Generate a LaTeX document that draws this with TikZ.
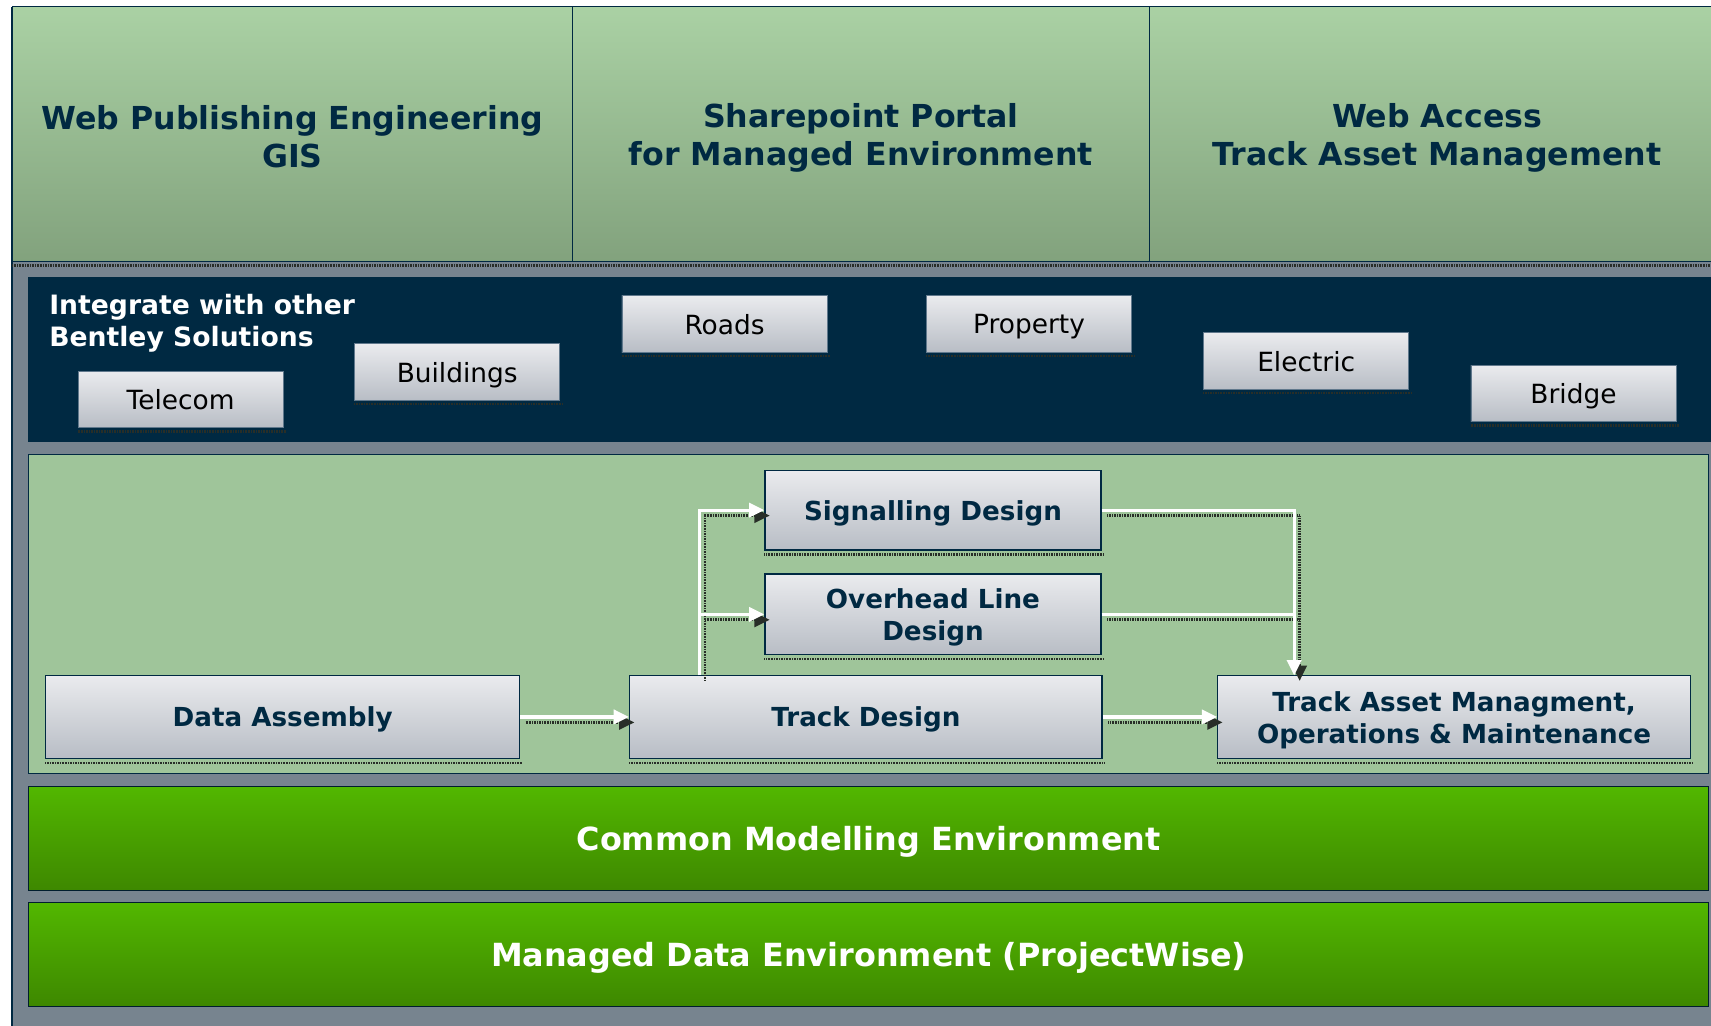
\documentclass[tikz,border=0pt]{standalone}
\usepackage{fontspec}
\setmainfont{DejaVu Sans}
\usetikzlibrary{arrows.meta,shadings}

\definecolor{navy}{RGB}{0,41,66}
\definecolor{slate}{RGB}{119,132,143}
\definecolor{hdtop}{RGB}{170,209,164}
\definecolor{hdbot}{RGB}{130,162,125}
\definecolor{panel}{RGB}{159,197,154}
\definecolor{boxtop}{RGB}{234,235,238}
\definecolor{boxbot}{RGB}{184,189,197}
\definecolor{boxedge}{RGB}{96,120,140}
\definecolor{gtop}{RGB}{82,183,0}
\definecolor{gbot}{RGB}{62,136,0}
\definecolor{shadowc}{RGB}{40,46,40}

\tikzset{
  header/.style={draw=navy, line width=0.8pt, top color=hdtop, bottom color=hdbot,
    minimum height=234pt, inner sep=0pt},
  headtext/.style={inner sep=0pt, text=navy, align=center,
    font=\fontsize{29}{35}\selectfont\bfseries},
  solution/.style={draw=boxedge, line width=0.8pt, top color=boxtop, bottom color=boxbot,
    minimum width=188pt, minimum height=52pt, inner sep=0pt, text=black,
    text depth=0pt, font=\fontsize{24.2}{28}\selectfont},
  stage/.style={draw=navy, line width=1.2pt, top color=boxtop, bottom color=boxbot,
    inner sep=0pt, text=navy, align=center,
    font=\fontsize{24}{29}\selectfont\bfseries},
  stagetext/.style={inner sep=0pt, text=navy, align=center,
    font=\fontsize{24}{29}\selectfont\bfseries},
  oneline/.style={text depth=0pt},
  layer/.style={draw=navy!70!black, line width=0.8pt, top color=gtop, bottom color=gbot,
    minimum width=1540pt, minimum height=95pt, inner sep=0pt, text=white,
    text depth=0pt, font=\fontsize{29.2}{34}\selectfont\bfseries},
  speckle/.style={draw=shadowc, line width=2.6pt, dash pattern=on 0.8pt off 0.7pt},
  flow/.style={draw=white, line width=3pt, -{Triangle[length=14pt,width=13pt]},
    preaction={speckle, transform canvas={xshift=5pt,yshift=-5pt}}},
  flowline/.style={draw=white, line width=3pt,
    preaction={speckle, transform canvas={xshift=5pt,yshift=-5pt}}},
}

\begin{document}
\begin{tikzpicture}[x=1pt,y=-1pt]
\useasboundingbox (0,0) rectangle (1568,940);
\clip (0,0) rectangle (1568,940);

% slate background of the lower part
\fill[slate] (11,240) rectangle (1580,945);
\draw[navy, line width=1pt] (11,6) -- (11,945);

% top row of web front ends
\node[header, minimum width=514pt] (web) at (268,123) {};
\node[header, minimum width=528pt] (share) at (789,123) {};
\node[header, minimum width=528pt] (access) at (1317,123) {};
\node[headtext] (webtext) at ([yshift=-2pt]web.center) {Web Publishing Engineering\\GIS};
\node[headtext] (sharetext) at ([yshift=-3pt]share.center) {Sharepoint Portal\\for Managed Environment};
\node[headtext] (accesstext) at ([yshift=-3pt]access.center) {Web Access\\Track Asset Management};
\draw[speckle, line width=3pt] (11,243.5) -- (1580,243.5);

% band of other Bentley solutions
\node[fill=navy, minimum width=1560pt, minimum height=151pt, inner sep=0pt] (bentley) at (806,329.5) {};
\node[anchor=north west, text=white, align=left, inner sep=0pt,
  font=\fontsize{24.4}{29}\selectfont\bfseries] (integ) at (45,269.5)
  {Integrate with other\\Bentley Solutions};
\node[solution] (telecom) at (165.5,366) {Telecom};
\node[solution] (buildings) at (419,341) {Buildings};
\node[solution] (roads) at (664,297) {Roads};
\node[solution] (property) at (943,297) {Property};
\node[solution] (electric) at (1197,331) {Electric};
\node[solution] (bridge) at (1442,360.5) {Bridge};
\foreach \n in {telecom,buildings,roads,property,electric,bridge}
  \draw[speckle, line width=2pt] ([yshift=-3pt]\n.south west) -- ([yshift=-3pt,xshift=2pt]\n.south east);

% design workflow panel
\node[draw=navy, line width=0.8pt, fill=panel, minimum width=1540pt, minimum height=293pt, inner sep=0pt] (work) at (796,562.5) {};
\node[stage, oneline, minimum width=308pt, minimum height=73pt] (sd) at (855,467.5) {Signalling Design};
\node[stage, minimum width=308pt, minimum height=74pt] (od) at (855,563) {};
\node[stagetext] (odtext) at ([yshift=-3pt]od.center) {Overhead Line\\Design};
\node[stage, oneline, minimum width=434pt, minimum height=76pt] (da) at (259,657) {Data Assembly};
\node[stage, oneline, minimum width=433pt, minimum height=76pt] (td) at (793.5,657) {Track Design};
\node[stage, minimum width=433pt, minimum height=76pt] (tam) at (1332.5,657) {};
\node[stagetext] (tamtext) at ([yshift=-3pt]tam.center) {Track Asset Managment,\\Operations \& Maintenance};
\foreach \n in {sd,od,da,td,tam}
  \draw[speckle, line width=2pt] ([yshift=-3.5pt]\n.south west) -- ([yshift=-3.5pt,xshift=2pt]\n.south east);

\coordinate (split) at (641,619);
\coordinate (merge) at (1186,619);
\draw[flow] (da.east) -- (td.west);
\draw[flow] (td.east) -- (tam.west);
\draw[flow] (split) |- (sd.west);
\draw[flow] (split |- od.west) -- (od.west);
\draw[flowline] (od.east) -- (merge |- od.east);
\draw[flow] (sd.east) -| (merge);

% shared environments
\node[layer] (cme) at (796,768.5) {Common Modelling Environment};
\node[layer] (mde) at (796,874.5) {Managed Data Environment (ProjectWise)};
\end{tikzpicture}
\end{document}
